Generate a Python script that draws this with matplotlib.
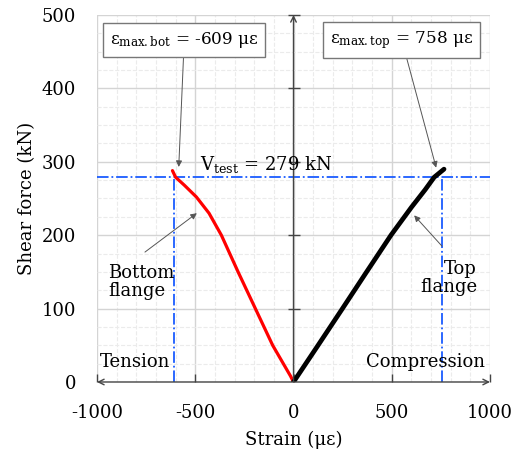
import numpy as np
import matplotlib.pyplot as plt

plt.rcParams['font.family'] = ['DejaVu Serif']
plt.rcParams['mathtext.fontset'] = 'dejavuserif'
plt.rcParams['axes.unicode_minus'] = False

# strain (micro-strain) vs shear force (kN)
bot_strain = [0, -15, -106, -194, -282, -367, -430, -494, -555, -600, -616]
bot_force = [0, 8, 50, 100, 150, 200, 230, 252, 268, 279, 288]
top_strain = [0, 125, 249, 372, 496, 600, 670, 716, 766]
top_force = [0, 50, 100, 150, 200, 238, 262, 279, 290]

v_test = 279
eps_bot = -609
eps_top = 758

xticks = [-1000, -500, 0, 500, 1000]
yticks = [0, 100, 200, 300, 400, 500]

fig = plt.figure(figsize=(5.13, 4.58), dpi=100)
ax = fig.add_axes([97/513, 76/458, 393/513, 367/458])
ax.set_xlim(-1000, 1000)
ax.set_ylim(0, 500)

# grid
ax.set_xticks(xticks)
ax.set_yticks(yticks)
ax.set_xticks(np.arange(-1000, 1001, 100), minor=True)
ax.set_yticks(np.arange(0, 501, 25), minor=True)
ax.grid(which='major', color='#d4d4d4', lw=1, ls='-')
ax.grid(which='minor', color='#ebebeb', lw=0.8, ls='--')
ax.set_axisbelow(True)
for s in ax.spines.values():
    s.set_visible(False)
ax.tick_params(which='both', length=0, labelsize=13)
ax.tick_params(axis='x', pad=16)
ax.tick_params(axis='y', pad=15)

# axes through origin
ax.annotate('', xy=(-1000, 0), xytext=(1000, 0),
            arrowprops=dict(arrowstyle='<->', color='#444444', lw=1, shrinkA=0, shrinkB=0))
ax.annotate('', xy=(0, 500), xytext=(0, 0),
            arrowprops=dict(arrowstyle='->', color='#444444', lw=1, shrinkA=0, shrinkB=0))
ax.plot(xticks, [0] * len(xticks), ls='none', marker=2, ms=6, color='#444444', mew=1, clip_on=False)
ax.plot([0] * 5, yticks[1:], ls='none', marker='_', ms=9, color='#444444', mew=1, clip_on=False)

# Vtest lines
blue = '#1a5cff'
ax.axhline(v_test, color=blue, lw=1.3, ls='-.')
ax.plot([eps_bot, eps_bot], [0, v_test], color=blue, lw=1.3, ls='-.')
ax.plot([eps_top, eps_top], [0, v_test], color=blue, lw=1.3, ls='-.')

# curves
ax.plot(bot_strain, bot_force, color='red', lw=2.3, solid_capstyle='round')
ax.plot(top_strain, top_force, color='black', lw=3.4, solid_capstyle='round')

ax.set_xlabel('Strain (με)', fontsize=13, labelpad=6)
ax.set_ylabel('Shear force (kN)', fontsize=13, labelpad=4)

box = dict(boxstyle='square,pad=0.4', fc='white', ec='#777777', lw=1)
arr = dict(arrowstyle='-|>', color='#555555', lw=0.7, mutation_scale=9, shrinkA=0, shrinkB=0)
ax.annotate('ε$_{\\rm max.bot}$ = -609 με', xy=(-584, 293), xytext=(-556, 466),
            fontsize=12.2, ha='center', va='center', bbox=box, arrowprops=arr)
ax.annotate('ε$_{\\rm max.top}$ = 758 με', xy=(726, 292), xytext=(551, 466),
            fontsize=12.2, ha='center', va='center', bbox=box, arrowprops=arr)

ax.text(-477, 296, 'V$_{\\rm test}$ = 279 kN', fontsize=13, ha='left', va='center')

ax.annotate('', xy=(-492, 230), xytext=(-756, 177), arrowprops=arr)
ax.text(-944, 136, 'Bottom\nflange', fontsize=13, ha='left', va='center', linespacing=1.0)
ax.annotate('', xy=(614, 227), xytext=(756, 185), arrowprops=arr)
ax.text(934, 142, 'Top\nflange', fontsize=13, ha='right', va='center', linespacing=1.0,
        multialignment='right')

ax.text(-985, 27, 'Tension', fontsize=13, ha='left', va='center')
ax.text(975, 27, 'Compression', fontsize=13, ha='right', va='center')

plt.savefig('out.png', dpi=100)
